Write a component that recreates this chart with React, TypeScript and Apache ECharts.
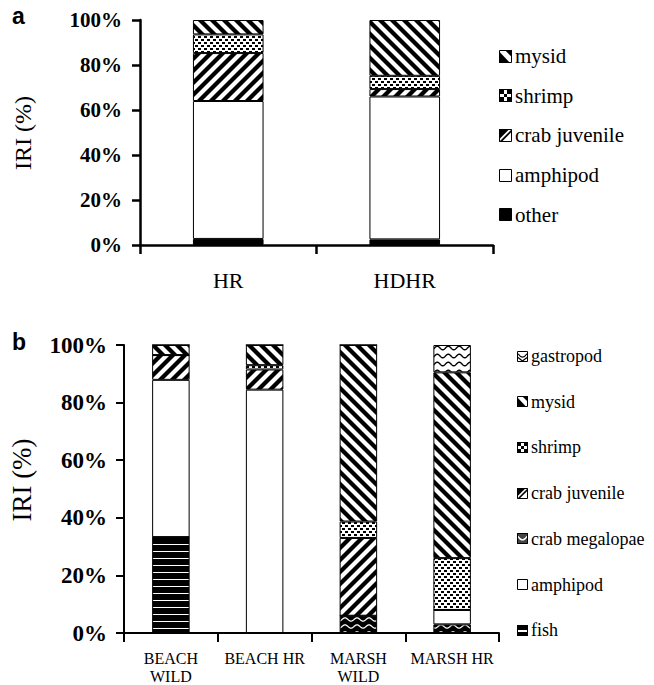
import React, { useEffect, useRef } from "react";
import * as echarts from "echarts";

// Panel a
const catsA = ["HR", "HDHR"];
const otherA = [2.7, 2.5];
const amphipodA = [61.3, 63.5];
const crabJuvA = [21.3, 3.3];
const shrimpA = [8.3, 5.9];
const mysidA = [6.4, 24.8];

// Panel b
const catsB = ["BEACH\nWILD", "BEACH HR", "MARSH\nWILD", "MARSH HR"];
const fishB = [33.3, 0, 0, 0];
const megalopaeB = [0, 0, 6, 3];
const amphipodB = [54.6, 84.5, 0, 5];
const crabJuvB = [8.6, 7, 27, 0];
const shrimpB = [0, 1.5, 5.7, 18];
const mysidB = [3.5, 7, 61.3, 64.5];
const gastropodB = [0, 0, 0, 9.5];

const yTicks = [0, 20, 40, 60, 80, 100];
const legendA = ["mysid", "shrimp", "crab juvenile", "amphipod", "other"];
const legendB = ["gastropod", "mysid", "shrimp", "crab juvenile", "crab megalopae", "amphipod", "fish"];

const SERIF = "Liberation Serif";

function canvasURL(w: number, h: number, draw: (ctx: CanvasRenderingContext2D) => void) {
  const c = document.createElement("canvas");
  c.width = w;
  c.height = h;
  const ctx = c.getContext("2d") as CanvasRenderingContext2D;
  draw(ctx);
  return c.toDataURL();
}

function tile(w: number, h: number, draw: (ctx: CanvasRenderingContext2D) => void) {
  return { image: canvasURL(w, h, draw), repeat: "repeat", imageWidth: w, imageHeight: h };
}

function makePatterns() {
  const back = tile(12, 12, (ctx) => {
    ctx.fillStyle = "#fff";
    ctx.fillRect(0, 0, 12, 12);
    ctx.strokeStyle = "#000";
    ctx.lineWidth = 4.2;
    for (let k = -1; k <= 1; k++) {
      ctx.beginPath();
      ctx.moveTo(k * 12 - 2, -2);
      ctx.lineTo(k * 12 + 14, 14);
      ctx.stroke();
    }
  });
  const fwd = tile(12, 12, (ctx) => {
    ctx.fillStyle = "#fff";
    ctx.fillRect(0, 0, 12, 12);
    ctx.strokeStyle = "#000";
    ctx.lineWidth = 4.2;
    for (let k = 0; k <= 2; k++) {
      ctx.beginPath();
      ctx.moveTo(k * 12 + 2, -2);
      ctx.lineTo(k * 12 - 14, 14);
      ctx.stroke();
    }
  });
  const dots = tile(6, 6, (ctx) => {
    ctx.fillStyle = "#fff";
    ctx.fillRect(0, 0, 6, 6);
    ctx.fillStyle = "#000";
    ctx.fillRect(0, 0, 3, 2);
    ctx.fillRect(3, 3, 3, 2);
  });
  const fish = tile(8, 7, (ctx) => {
    ctx.fillStyle = "#000";
    ctx.fillRect(0, 0, 8, 7);
    ctx.fillStyle = "#fff";
    ctx.fillRect(0, 5, 8, 1);
  });
  const wave = (w: number, h: number, amp: number, bg: string, fg: string, lw: number) =>
    tile(w, h, (ctx) => {
      ctx.fillStyle = bg;
      ctx.fillRect(0, 0, w, h);
      ctx.strokeStyle = fg;
      ctx.lineWidth = lw;
      ctx.beginPath();
      for (let x = -1; x <= w + 1; x += 0.5) {
        const y = h / 2 + amp * Math.sin((2 * Math.PI * x) / w);
        if (x === -1) ctx.moveTo(x, y);
        else ctx.lineTo(x, y);
      }
      ctx.stroke();
    });
  const megalopae = wave(12, 7, 1.6, "#000", "#fff", 1.3);
  const gastropod = wave(11, 8, 1.8, "#fff", "#000", 1.4);

  // legend swatch images (one image = one swatch)
  const icon = (s: number, draw: (ctx: CanvasRenderingContext2D) => void) =>
    canvasURL(s, s, (ctx) => {
      ctx.fillStyle = "#fff";
      ctx.fillRect(0, 0, s, s);
      ctx.fillStyle = "#000";
      ctx.strokeStyle = "#000";
      draw(ctx);
    });
  const icons = (s: number): Record<string, string> => ({
    mysid: icon(s, (ctx) => {
      ctx.beginPath();
      ctx.moveTo(0, s * 0.1);
      ctx.lineTo(s * 0.85, s);
      ctx.lineTo(0, s);
      ctx.closePath();
      ctx.fill();
      ctx.beginPath();
      ctx.moveTo(s * 0.45, 0);
      ctx.lineTo(s, 0);
      ctx.lineTo(s, s * 0.55);
      ctx.closePath();
      ctx.fill();
    }),
    "crab juvenile": icon(s, (ctx) => {
      ctx.beginPath();
      ctx.moveTo(0, s);
      ctx.lineTo(s, 0);
      ctx.lineTo(s, s * 0.2);
      ctx.lineTo(s * 0.2, s);
      ctx.closePath();
      ctx.fill();
      ctx.beginPath();
      ctx.moveTo(0, s * 0.8);
      ctx.lineTo(s * 0.8, 0);
      ctx.lineTo(0, 0);
      ctx.closePath();
      ctx.fill();
    }),
    shrimp: icon(s, (ctx) => {
      const q = Math.round(s * 0.36);
      ctx.fillRect(0, 0, q, q);
      ctx.fillRect(s - q, 0, q, q);
      ctx.fillRect(0, s - q, q, q);
      ctx.fillRect(s - q, s - q, q, q);
      const m = Math.round(s * 0.25);
      ctx.fillRect((s - m) / 2, (s - m) / 2, m, m);
    }),
    fish: icon(s, (ctx) => {
      ctx.fillRect(0, 0, s, s);
      ctx.fillStyle = "#fff";
      ctx.fillRect(1, Math.round(s / 2) - 1, s - 2, 2);
    }),
    "crab megalopae": icon(s, (ctx) => {
      ctx.fillStyle = "#444";
      ctx.fillRect(0, 0, s, s);
      ctx.strokeStyle = "#fff";
      ctx.lineWidth = 1.3;
      ctx.beginPath();
      ctx.moveTo(1, s * 0.3);
      ctx.quadraticCurveTo(s / 2, s * 0.95, s - 1, s * 0.3);
      ctx.stroke();
    }),
    gastropod: icon(s, (ctx) => {
      ctx.lineWidth = 1.3;
      ctx.beginPath();
      ctx.moveTo(1, s * 0.25);
      ctx.quadraticCurveTo(s / 2, s * 0.85, s - 1, s * 0.25);
      ctx.stroke();
      ctx.beginPath();
      ctx.moveTo(1, s * 0.6);
      ctx.lineTo(s / 2, s * 0.9);
      ctx.lineTo(s - 1, s * 0.6);
      ctx.stroke();
    }),
  });
  return { back, fwd, dots, fish, megalopae, gastropod, iconsA: icons(13), iconsB: icons(11) };
}

export default function App() {
  const ref = useRef<HTMLDivElement>(null);

  useEffect(() => {
    document.body.style.margin = "0";
    if (!ref.current) return;
    const chart = echarts.init(ref.current, null, { renderer: "svg" });
    const P = makePatterns();
    const fills: Record<string, any> = {
      mysid: P.back,
      shrimp: P.dots,
      "crab juvenile": P.fwd,
      amphipod: "#fff",
      other: "#000",
      fish: P.fish,
      "crab megalopae": P.megalopae,
      gastropod: P.gastropod,
    };
    const solid: Record<string, string> = { amphipod: "#fff", other: "#000" };
    const bar = (name: string, data: number[], idx: number, stack: string) => ({
      type: "bar",
      name,
      data,
      stack,
      xAxisIndex: idx,
      yAxisIndex: idx,
      barWidth: "40%",
      itemStyle: { color: fills[name], borderColor: "#000", borderWidth: 1 },
      emphasis: { disabled: true },
    });

    const xAxisBase = (idx: number, data: string[], fontSize: number, margin: number, lw: number, lineHeight: number) => ({
      type: "category",
      gridIndex: idx,
      data,
      boundaryGap: true,
      axisLine: { lineStyle: { color: "#000", width: lw } },
      axisTick: { show: true, alignWithLabel: false, length: 9, lineStyle: { color: "#000", width: lw } },
      axisLabel: { color: "#000", fontFamily: SERIF, fontSize, margin, lineHeight, interval: 0 },
    });
    const yAxisBase = (idx: number, fontSize: number, margin: number, lw: number) => ({
      type: "value",
      gridIndex: idx,
      min: 0,
      max: 100,
      interval: 20,
      axisLine: { show: true, lineStyle: { color: "#000", width: lw } },
      axisTick: { show: true, length: 8, lineStyle: { color: "#000", width: lw } },
      splitLine: { show: false },
      axisLabel: {
        color: "#000",
        fontFamily: SERIF,
        fontWeight: "bold",
        fontSize,
        margin,
        formatter: (v: number) => (yTicks.includes(v) ? v + "%" : ""),
      },
    });

    const legendGraphics = (
      names: string[],
      icons: Record<string, string>,
      x: number,
      y0: number,
      step: number,
      size: number,
      fontSize: number
    ) => {
      const out: any[] = [];
      names.forEach((name, i) => {
        const cy = y0 + i * step;
        const top = Math.round(cy - size / 2);
        if (icons[name]) {
          out.push({ type: "image", style: { image: icons[name], x, y: top, width: size, height: size } });
        }
        out.push({
          type: "rect",
          shape: { x: x + 0.5, y: top + 0.5, width: size - 1, height: size - 1 },
          style: { fill: icons[name] ? "none" : solid[name], stroke: "#000", lineWidth: 1 },
        });
        out.push({
          type: "text",
          x: x + size + 3,
          y: cy,
          style: { text: name, font: `${fontSize}px '${SERIF}'`, fill: "#000", verticalAlign: "middle", align: "left" },
        });
      });
      return out;
    };

    chart.setOption({
      animation: false,
      backgroundColor: "#fff",
      textStyle: { fontFamily: SERIF, color: "#000" },
      grid: [
        { left: 140, top: 20, width: 353, height: 225 },
        { left: 124, top: 345, width: 375, height: 290 },
      ],
      xAxis: [xAxisBase(0, catsA, 22, 24, 2.5, 22), xAxisBase(1, catsB, 16, 16, 2, 18)],
      yAxis: [yAxisBase(0, 21, 18, 2.5), yAxisBase(1, 23, 17, 2)],
      graphic: [
        { type: "text", left: 12, top: 4, style: { text: "a", font: "bold 23px 'Liberation Sans', Arial, sans-serif", fill: "#000" } },
        { type: "text", left: 12, top: 330, style: { text: "b", font: "bold 23px 'Liberation Sans', Arial, sans-serif", fill: "#000" } },
        {
          type: "text",
          x: 23,
          y: 133,
          rotation: Math.PI / 2,
          style: { text: "IRI (%)", font: `24px '${SERIF}'`, fill: "#000", align: "center", verticalAlign: "middle" },
        },
        {
          type: "text",
          x: 22,
          y: 480,
          rotation: Math.PI / 2,
          style: { text: "IRI (%)", font: `27px '${SERIF}'`, fill: "#000", align: "center", verticalAlign: "middle" },
        },
        ...legendGraphics(legendA, P.iconsA, 499, 56, 39.7, 13, 21),
        ...legendGraphics(legendB, P.iconsB, 517, 356, 45.7, 11, 18),
      ],
      series: [
        bar("other", otherA, 0, "a"),
        bar("amphipod", amphipodA, 0, "a"),
        bar("crab juvenile", crabJuvA, 0, "a"),
        bar("shrimp", shrimpA, 0, "a"),
        bar("mysid", mysidA, 0, "a"),
        bar("fish", fishB, 1, "b"),
        bar("crab megalopae", megalopaeB, 1, "b"),
        bar("amphipod", amphipodB, 1, "b"),
        bar("crab juvenile", crabJuvB, 1, "b"),
        bar("shrimp", shrimpB, 1, "b"),
        bar("mysid", mysidB, 1, "b"),
        bar("gastropod", gastropodB, 1, "b"),
      ],
    });
    return () => chart.dispose();
  }, []);

  return <div ref={ref} style={{ width: 654, height: 685 }} />;
}
